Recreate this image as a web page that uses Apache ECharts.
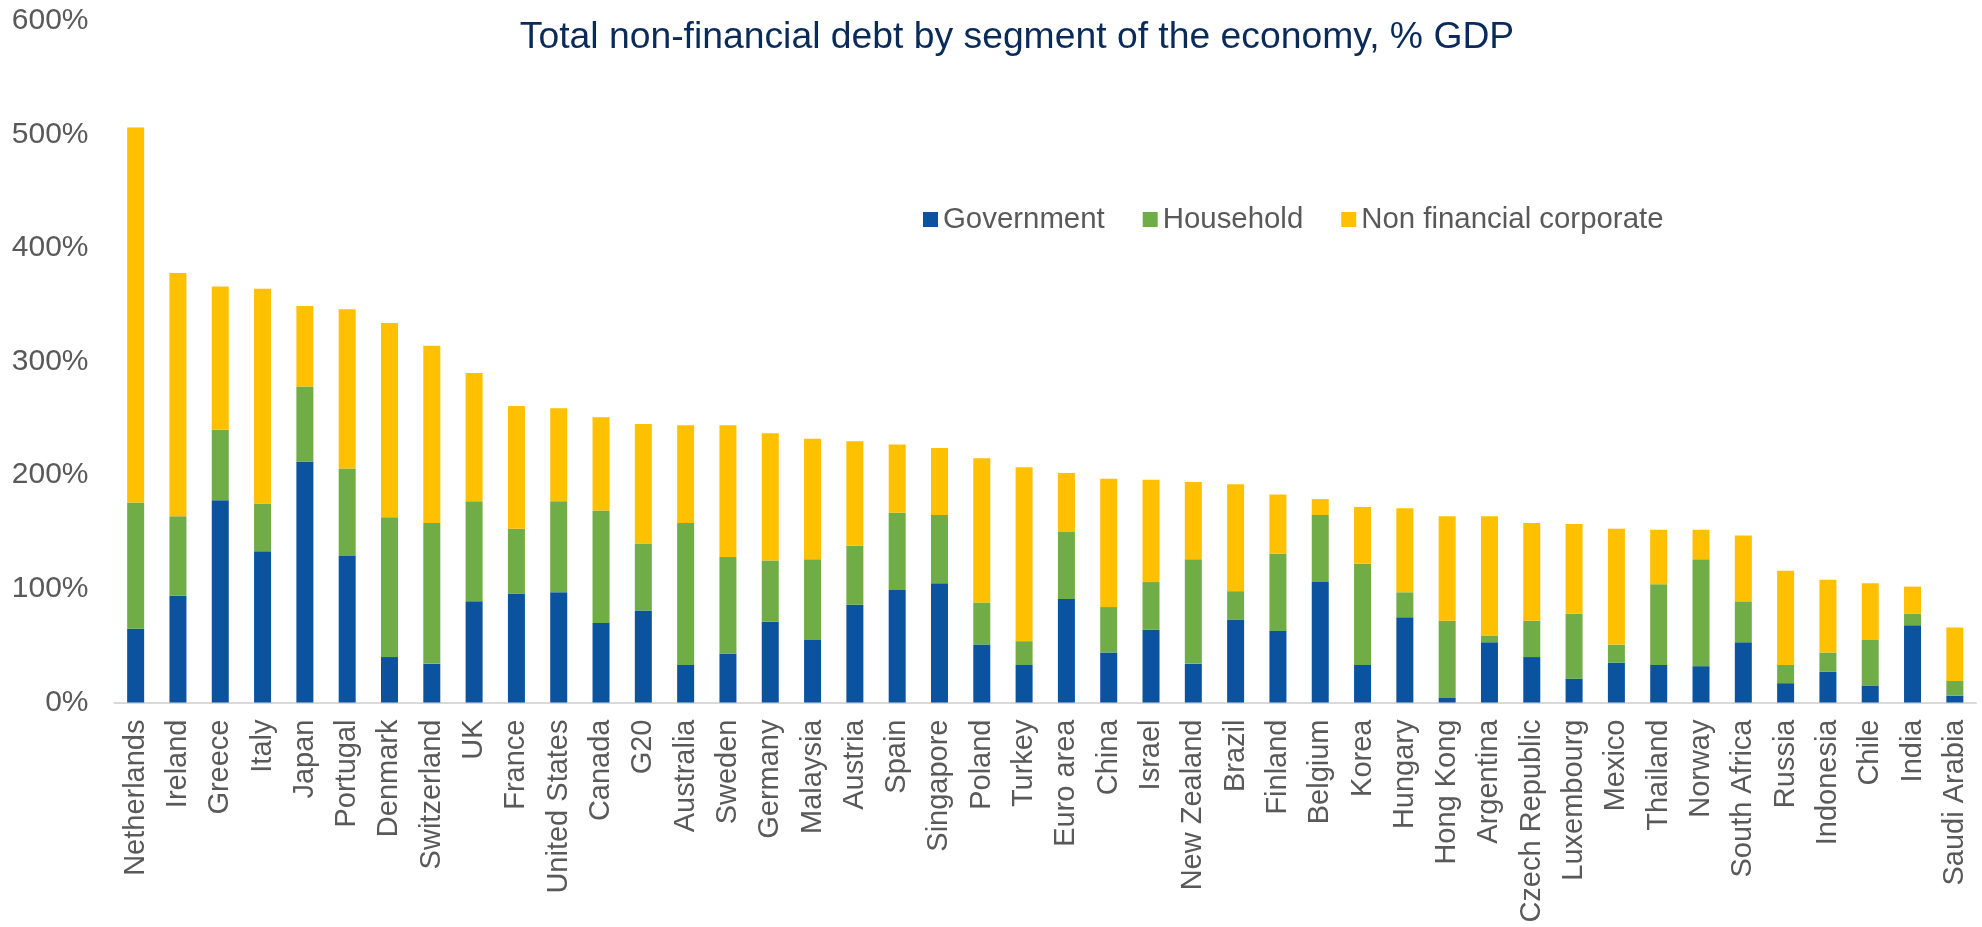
<!DOCTYPE html>
<html>
<head>
<meta charset="utf-8">
<script src="https://cdn.jsdelivr.net/npm/echarts@6/dist/echarts.min.js"></script>
<style>
  html, body { margin: 0; padding: 0; background: #fff; }
  #chart { width: 1982px; height: 927px; }
</style>
</head>
<body>
<div id="chart"></div>
<script>
// countries, sorted by total debt
var countries = ["Netherlands", "Ireland", "Greece", "Italy", "Japan", "Portugal", "Denmark", "Switzerland", "UK", "France",
  "United States", "Canada", "G20", "Australia", "Sweden", "Germany", "Malaysia", "Austria", "Spain", "Singapore",
  "Poland", "Turkey", "Euro area", "China", "Israel", "New Zealand", "Brazil", "Finland", "Belgium", "Korea",
  "Hungary", "Hong Kong", "Argentina", "Czech Republic", "Luxembourg", "Mexico", "Thailand", "Norway", "South Africa", "Russia",
  "Indonesia", "Chile", "India", "Saudi Arabia"];

// % GDP
var government = [65, 94, 178, 133, 212, 129, 40, 34, 89, 96,
  97, 70, 81, 33, 43, 71, 55, 86, 99, 105,
  51, 33, 91, 44, 64, 34, 73, 63, 106, 33,
  75, 4, 53, 40, 21, 35, 33, 32, 53, 17,
  27, 15, 68, 6];
var household = [111, 70, 62, 42, 66, 77, 123, 124, 88, 57,
  80, 99, 59, 125, 85, 54, 71, 52, 68, 60,
  37, 21, 59, 40, 42, 92, 25, 68, 59, 89,
  22, 68, 6, 32, 57, 16, 71, 94, 36, 16,
  17, 40, 10, 13];
var nonFinCorp = [330, 214, 126, 189, 71, 140, 171, 156, 113, 108,
  82, 82, 105, 86, 116, 112, 106, 92, 60, 59,
  127, 153, 52, 113, 90, 68, 94, 52, 14, 50,
  74, 92, 105, 86, 79, 102, 48, 26, 58, 83,
  64, 50, 24, 47];

var yTicks = [0, 100, 200, 300, 400, 500, 600];

var font = "'Liberation Sans', Arial, sans-serif";
var grey = "#595959";

var myChart = echarts.init(document.getElementById("chart"));
var option = {
  animation: false,
  title: {
    text: "Total non-financial debt by segment of the economy, % GDP",
    left: 1012,
    top: 14,
    textAlign: "center",
    textStyle: { fontFamily: font, fontSize: 37.3, fontWeight: "normal", color: "#0A2B5A" }
  },
  legend: {
    left: 918,
    top: 200,
    itemWidth: 15,
    itemHeight: 15,
    itemGap: 38,
    icon: "rect",
    textStyle: { fontFamily: font, fontSize: 29.4, color: grey },
    data: ["Government", "Household", "Non financial corporate"]
  },
  grid: {
    left: 114.5,
    right: 6,
    top: 20.7,
    bottom: 224.5,
    containLabel: false,
    outerBoundsMode: "none"
  },
  xAxis: {
    type: "category",
    data: countries,
    axisLine: { lineStyle: { color: "#D9D9D9", width: 2 } },
    axisTick: { show: false },
    axisLabel: {
      rotate: 90,
      interval: 0,
      margin: 17,
      fontFamily: font,
      fontSize: 29,
      color: grey
    }
  },
  yAxis: {
    type: "value",
    min: yTicks[0],
    max: yTicks[yTicks.length - 1],
    interval: 100,
    splitLine: { show: false },
    axisLine: { show: false },
    axisTick: { show: false },
    axisLabel: {
      margin: 26,
      fontFamily: font,
      fontSize: 30,
      color: grey,
      formatter: "{value}%"
    }
  },
  series: [
    {
      name: "Government",
      type: "bar",
      stack: "total",
      barWidth: 17,
      itemStyle: { color: "#0B539F" },
      data: government
    },
    {
      name: "Household",
      type: "bar",
      stack: "total",
      barWidth: 17,
      itemStyle: { color: "#70AD47" },
      data: household
    },
    {
      name: "Non financial corporate",
      type: "bar",
      stack: "total",
      barWidth: 17,
      itemStyle: { color: "#FFC000" },
      data: nonFinCorp
    }
  ]
};
myChart.setOption(option);
</script>
</body>
</html>
